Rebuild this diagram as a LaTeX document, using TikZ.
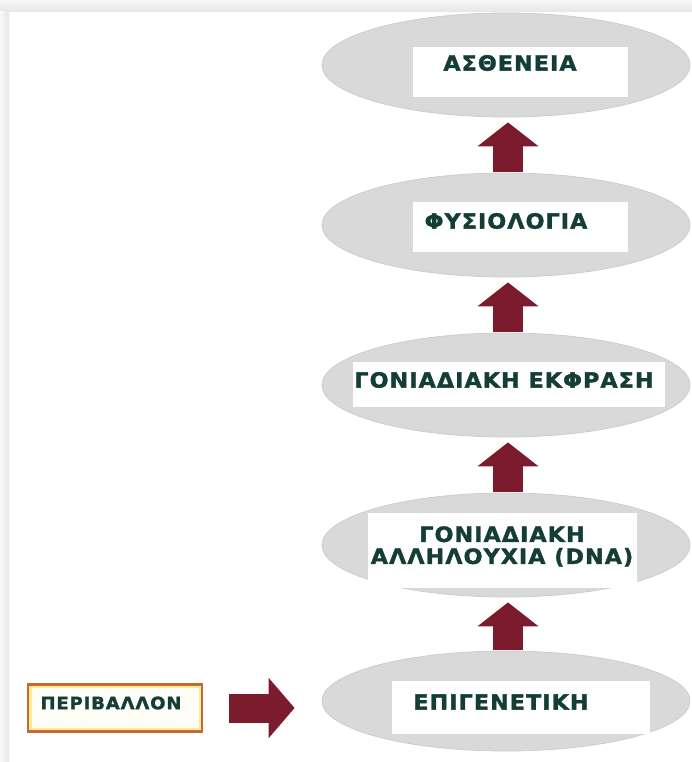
\documentclass[tikz,border=0pt]{standalone}
\usepackage{fontspec}
\usetikzlibrary{shapes.geometric,arrows.meta}
\newfontfamily\lblfont{DejaVu Sans}[LetterSpace=5, FakeStretch=1.06, BoldFeatures={FakeBold=1.6}]

\definecolor{ovalgray}{HTML}{D9D9D9}
\definecolor{ovalrim}{HTML}{CDCDCD}
\definecolor{arrowred}{HTML}{7B1B2D}
\definecolor{labelgreen}{HTML}{133D36}
\definecolor{envrim}{HTML}{C4692F}
\definecolor{envglow}{HTML}{FDEB98}
\definecolor{envfill}{HTML}{FFFEF6}
\definecolor{framegray}{HTML}{E6E6E6}
\definecolor{framelight}{HTML}{F8F8F8}

\tikzset{
  oval/.style={ellipse, fill=ovalgray, draw=ovalrim, line width=0.8pt,
    minimum width=368pt, minimum height=104pt, inner sep=0pt},
  whitebox/.style={rectangle, fill=white, inner sep=0pt},
  lbl/.style={text=labelgreen, font=\lblfont\bfseries\fontsize{21}{22}\selectfont,
    align=center, inner sep=0pt},
  uparrow/.style={draw=arrowred, line width=30pt,
    -{Triangle[length=24pt, width=60pt]}},
  rarrow/.style={draw=arrowred, line width=29pt,
    -{Triangle[length=26pt, width=59pt]}},
  envbox/.style={rectangle, fill=envfill, draw=envrim, line width=2.5pt,
    minimum width=174pt, minimum height=47pt, inner sep=0pt,
    path picture={\draw[envglow, line width=7pt]
      (path picture bounding box.south west) rectangle
      (path picture bounding box.north east);}},
}

\begin{document}
\begin{tikzpicture}[x=1pt, y=-1pt]
  \useasboundingbox (0,0) rectangle (692,762);
  % page frame
  \shade[top color=framelight, bottom color=framegray] (0,0) rectangle (692,12);
  \shade[left color=framelight, right color=framegray] (0,12) rectangle (9,762);

  % grey ovals, top to bottom
  \node[oval] (e1) at (506,65)  {};
  \node[oval] (e2) at (506,225) {};
  \node[oval] (e3) at (506,385) {};
  \node[oval] (e4) at (506,545) {};
  \node[oval, minimum height=100pt] (e5) at (506,701) {};

  % white label panels
  \node[whitebox, minimum width=215pt, minimum height=50pt] (b1) at (520.5,72)  {};
  \node[whitebox, minimum width=215pt, minimum height=50pt] (b2) at (520.5,227) {};
  \node[whitebox, minimum width=312pt, minimum height=45pt] (b3) at (509,384.5) {};
  \node[whitebox, minimum width=269pt, minimum height=75pt] (b4) at (502.5,550.5) {};
  \node[whitebox, minimum width=258pt, minimum height=53pt] (b5) at (521,707.5) {};

  % labels
  \node[lbl] (t1) at (510,63)  {ΑΣΘΕΝΕΙΑ};
  \node[lbl] (t2) at (506,221) {ΦΥΣΙΟΛΟΓΙΑ};
  \node[lbl] (t3) at (504,380) {ΓΟΝΙΑΔΙΑΚΗ ΕΚΦΡΑΣΗ};
  \node[lbl] (t4) at (502,546.5) {ΓΟΝΙΑΔΙΑΚΗ\\ΑΛΛΗΛΟΥΧΙΑ (DNA)};
  \node[lbl] (t5) at (501,702) {ΕΠΙΓΕΝΕΤΙΚΗ};

  % environment box
  \node[envbox] (env) at (115,708) {};
  \node[lbl, font=\lblfont\bfseries\fontsize{17}{19}\selectfont] (tenv) at (111,703) {ΠΕΡΙΒΑΛΛΟΝ};

  % arrows
  \draw[uparrow, shorten <=1pt, shorten >=5pt] ([xshift=2pt]e2.north) -- ([xshift=2pt]e1.south);
  \draw[uparrow, shorten <=1pt, shorten >=5pt] ([xshift=2pt]e3.north) -- ([xshift=2pt]e2.south);
  \draw[uparrow, shorten <=1pt, shorten >=5pt] ([xshift=2pt]e4.north) -- ([xshift=2pt]e3.south);
  \draw[uparrow, shorten <=1pt, shorten >=5pt] ([xshift=2pt]e5.north) -- ([xshift=2pt]e4.south);
  \draw[rarrow, shorten <=26pt, shorten >=27pt] (env.east) -- (env.east -| e5.west);
\end{tikzpicture}
\end{document}
